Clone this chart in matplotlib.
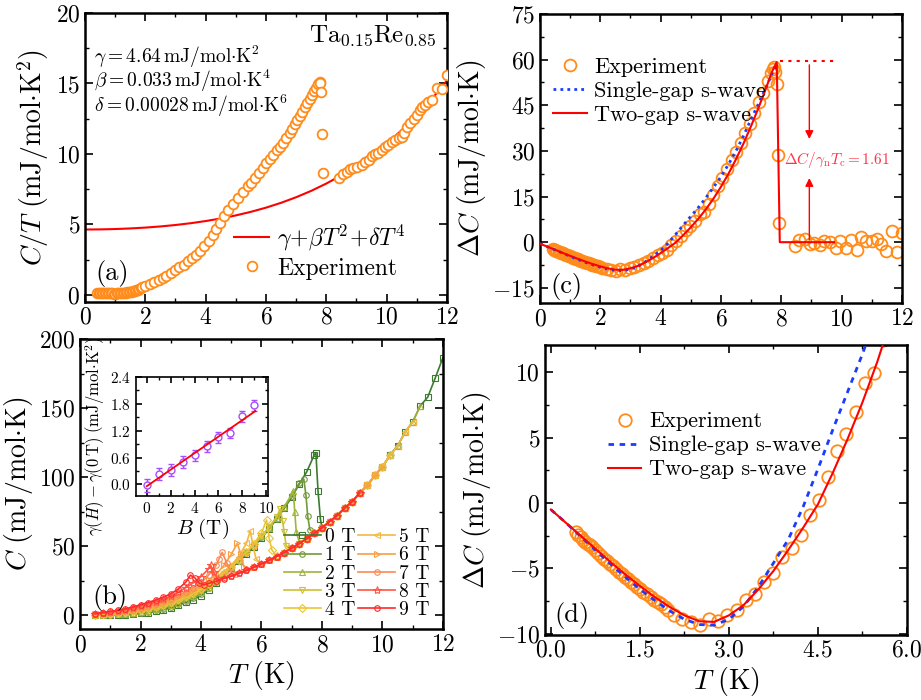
import matplotlib.pyplot as plt
from matplotlib.ticker import MultipleLocator

plt.rcParams['font.family'] = 'serif'
plt.rcParams['font.serif'] = ['cmr10']
plt.rcParams['mathtext.fontset'] = 'cm'
plt.rcParams['axes.formatter.use_mathtext'] = True

ORANGE = '#ff8c1a'
RED = '#ff0000'
BLUE = '#1a3cff'

# ---------------- panel (a): C/T vs T ----------------
a_T = [0.40, 0.45, 0.50, 0.55, 0.60, 0.65, 0.70, 0.75, 0.80, 0.85, 0.90, 0.95, 1.00, 1.05, 1.10,
       1.15, 1.20, 1.25, 1.30, 1.35, 1.40, 1.45, 1.50, 1.55, 1.60, 1.65, 1.70, 1.75, 1.80, 1.85, 1.90,
       2.00, 2.15, 2.30, 2.45, 2.57, 2.70, 2.85, 3.00, 3.13, 3.27, 3.40, 3.55, 3.68, 3.82, 3.96, 4.10,
       4.23, 4.35, 4.46, 4.60, 4.73, 4.90, 5.07, 5.23, 5.40, 5.51, 5.62, 5.76, 5.90, 6.01, 6.12, 6.23,
       6.35, 6.45, 6.56, 6.67, 6.78, 6.86, 6.95, 7.03, 7.12, 7.20, 7.28, 7.37, 7.45, 7.52, 7.60, 7.67,
       7.73, 7.78, 7.80, 7.84, 7.86, 7.89,
       8.43, 8.55, 8.67, 8.78, 8.90, 9.03, 9.17, 9.28, 9.40, 9.50, 9.60, 9.72, 9.83, 9.94, 10.05,
       10.17, 10.28, 10.40, 10.50, 10.58, 10.66, 10.78, 10.90, 11.00, 11.10, 11.18, 11.27, 11.38,
       11.50, 11.66, 11.83, 12.00]
a_CT = [0.12, 0.14, 0.12, 0.13, 0.15, 0.13, 0.14, 0.15, 0.16, 0.13, 0.12, 0.10, 0.10, 0.11, 0.12,
        0.13, 0.14, 0.15, 0.16, 0.17, 0.18, 0.20, 0.22, 0.24, 0.27, 0.30, 0.34, 0.38, 0.43, 0.48, 0.55,
        0.64, 0.78, 0.90, 1.05, 1.20, 1.37, 1.55, 1.75, 1.95, 2.15, 2.38, 2.60, 2.85, 3.15, 3.45, 3.85,
        4.25, 4.70, 5.10, 5.60, 6.00, 6.45, 6.90, 7.30, 7.70, 7.95, 8.30, 8.65, 9.00, 9.35, 9.65, 9.95,
        10.25, 10.50, 10.80, 11.10, 11.45, 11.80, 12.10, 12.40, 12.70, 13.00, 13.35, 13.60, 13.90, 14.20,
        14.45, 14.70, 14.95, 15.10, 15.00, 14.40, 11.40, 8.65,
        8.30, 8.55, 8.70, 8.95, 9.00, 9.10, 9.25, 9.40, 9.60, 9.85, 10.00, 10.10, 10.25, 10.50, 10.60,
        10.85, 11.00, 11.10, 11.20, 11.50, 11.90, 12.20, 12.50, 12.75, 13.10, 13.30, 13.50, 13.65,
        13.80, 14.70, 14.60, 15.60]
fit_a_T = [0, 0.5, 1, 1.5, 2, 2.5, 3, 3.5, 4, 4.5, 5, 5.5, 6, 6.5, 7, 7.5, 8, 8.5, 9, 9.5, 10,
           10.5, 11, 11.5, 12]
fit_a_CT = [4.64, 4.648, 4.673, 4.716, 4.776, 4.857, 4.96, 5.086, 5.24, 5.423, 5.64, 5.894, 6.19,
            6.534, 6.93, 7.382, 7.90, 8.486, 9.15, 9.898, 10.74, 11.681, 12.73, 13.904, 15.2]

# ---------------- panel (b): C vs T in field ----------------
fields = ['0 T', '1 T', '2 T', '3 T', '4 T', '5 T', '6 T', '7 T', '8 T', '9 T']
field_colors = ['#3c7a30', '#72993a', '#a3b43c', '#cfc032', '#ebc534',
                '#f4b842', '#f8a044', '#f98a55', '#ff5543', '#ff2a2a']
field_markers = ['s', 'o', '^', 'v', 'D', '<', '>', 'o', '*', 'o']
sc_grid = [0.5, 0.75, 1.0, 1.25, 1.5, 1.75, 2.0, 2.25, 2.5, 2.75, 3.0, 3.25, 3.5, 3.75, 4.0,
           4.25, 4.5, 4.75, 5.0, 5.25, 5.5, 5.75, 6.0, 6.25, 6.5, 6.75, 7.0, 7.25, 7.5, 7.75]
low_C = [
    [0.06, 0.09, 0.12, 0.19, 0.33, 0.6, 1.3, 1.9, 2.8, 3.9, 5.4, 7.2, 9.3, 11.3, 14.2, 18.5, 23.4,
     29.0, 34.0, 38.9, 44.0, 49.7, 55.8, 62.5, 69.5, 77.3, 85.4, 95.0, 104.0, 116.3],
    [0.18, 0.27, 0.38, 0.55, 0.77, 1.15, 1.9, 2.6, 3.5, 4.7, 6.2, 8.1, 10.2, 12.5, 15.5, 19.5, 24.2,
     29.5, 34.6, 39.6, 44.8, 50.4, 56.4, 63.0, 70.0, 77.8, 86.4, 95.5],
    [0.3, 0.45, 0.65, 0.9, 1.2, 1.7, 2.5, 3.3, 4.3, 5.5, 7.1, 9.0, 11.2, 13.7, 16.8, 20.6, 25.0,
     30.0, 35.2, 40.3, 45.5, 51.0, 57.0, 63.5, 70.5, 78.5, 87.5],
    [0.4, 0.6, 0.9, 1.2, 1.6, 2.2, 3.2, 4.1, 5.2, 6.5, 8.2, 10.1, 12.3, 14.8, 17.8, 21.3, 25.4,
     30.0, 35.0, 40.2, 45.6, 51.2, 57.2, 63.8, 71.0],
    [0.5, 0.75, 1.1, 1.5, 2.0, 2.7, 3.8, 4.9, 6.1, 7.6, 9.4, 11.4, 13.6, 16.2, 19.2, 22.6, 26.4,
     30.6, 35.2, 40.2, 45.6, 51.8, 59.5],
    [0.6, 0.95, 1.35, 1.8, 2.4, 3.2, 4.3, 5.4, 6.8, 8.5, 10.4, 12.5, 14.8, 17.4, 20.3, 23.6, 27.3,
     31.5, 36.2, 42.5, 52.0],
    [0.7, 1.15, 1.6, 2.1, 2.7, 3.5, 4.6, 5.8, 7.3, 9.0, 11.0, 13.2, 15.7, 18.5, 21.7, 25.3, 29.5,
     36.0, 44.0],
    [0.85, 1.35, 1.9, 2.45, 3.1, 4.0, 5.3, 6.6, 8.2, 10.0, 12.0, 14.3, 17.0, 20.0, 23.5, 29.0, 36.0],
    [1.0, 1.6, 2.3, 3.1, 4.0, 5.2, 6.7, 8.1, 9.8, 11.6, 13.8, 16.5, 20.0, 23.5, 28.0, 33.5],
    [1.2, 1.9, 2.7, 3.6, 4.6, 6.0, 7.6, 9.2, 11.0, 13.0, 15.5, 19.0, 24.0],
]
jump_T = [
    [7.8, 7.87, 7.95],
    [7.4, 7.47, 7.53, 7.6, 7.75],
    [7.05, 7.1, 7.15, 7.25],
    [6.62, 6.7, 6.75, 6.82],
    [6.17, 6.25, 6.35, 6.5],
    [5.63, 5.72, 5.82],
    [5.2, 5.32, 5.42, 5.6],
    [4.6, 4.7, 4.85, 5.0, 5.15],
    [4.32, 4.42, 4.55, 4.75],
    [3.65, 3.8, 3.95, 4.1, 4.25, 4.5, 4.75],
]
jump_C = [
    [117.5, 90.0, 69.6],
    [98.5, 87.0, 71.5, 62.0, 59.5],
    [90.0, 75.0, 60.5, 53.0],
    [77.0, 68.0, 60.0, 50.0],
    [69.0, 56.0, 47.0, 43.0],
    [61.0, 50.0, 41.0],
    [52.0, 44.0, 35.0, 33.8],
    [41.0, 45.5, 38.0, 31.0, 29.8],
    [36.0, 31.0, 26.5, 26.8],
    [29.0, 27.0, 23.0, 22.0, 23.0, 24.6, 26.5],
]
tail_range = [(8.0, 12.0), (8.0, 10.5), (7.5, 11.25), (7.0, 10.0), (6.75, 10.25),
              (6.0, 11.0), (5.75, 10.0), (5.5, 9.25), (5.0, 9.25), (5.0, 9.25)]
norm_T = [4.0, 4.25, 4.5, 4.75, 5.0, 5.25, 5.5, 5.75, 6.0, 6.25, 6.5, 6.75, 7.0, 7.25, 7.5, 7.75,
          8.0, 8.25, 8.5, 8.75, 9.0, 9.25, 9.5, 9.75, 10.0, 10.25, 10.5, 10.75, 11.0, 11.25, 11.5,
          11.75, 12.0]
norm_C = [21.0, 22.6, 24.4, 26.3, 28.2, 30.3, 32.4, 34.7, 37.1, 39.7, 42.5, 45.4, 48.5, 51.9, 55.4,
          59.3, 63.2, 67.8, 72.1, 77.5, 82.3, 88.6, 94.0, 101.3, 107.4, 115.9, 122.6, 132.5, 140.0,
          151.5, 158.0, 172.0, 186.5]

# inset
inset_B = [0, 1, 2, 3, 4, 5, 6, 7, 8, 9]
inset_dg = [-0.02, 0.23, 0.32, 0.50, 0.65, 0.85, 1.05, 1.15, 1.52, 1.77]
inset_err = [0.15, 0.13, 0.13, 0.13, 0.12, 0.12, 0.13, 0.12, 0.12, 0.12]
inset_fit_B = [0.0, 9.1]
inset_fit = [-0.04, 1.64]

# ---------------- panels (c), (d): Delta C vs T ----------------
dC_T = [0.42, 0.46, 0.50, 0.54, 0.58, 0.62, 0.66, 0.70, 0.75, 0.80, 0.85, 0.90, 0.95, 1.00, 1.05,
        1.10, 1.15, 1.20, 1.25, 1.30, 1.35, 1.40, 1.45, 1.50, 1.56, 1.62, 1.68, 1.74, 1.80, 1.86,
        1.92, 1.98, 2.07, 2.21, 2.36, 2.51, 2.66, 2.82, 2.97, 3.13, 3.28, 3.44, 3.59, 3.74, 3.90,
        4.06, 4.21, 4.36, 4.52, 4.67, 4.83, 4.98, 5.14, 5.29, 5.45, 5.60, 5.75, 5.90, 6.05, 6.20,
        6.35, 6.50, 6.65, 6.80, 6.95, 7.10, 7.25, 7.40, 7.55, 7.65, 7.72, 7.76, 7.80, 7.85, 7.88,
        7.92, 8.44, 8.60, 8.77, 8.94, 9.10, 9.27, 9.43, 9.60, 9.80, 9.96, 10.15, 10.32, 10.50,
        10.65, 10.82, 11.02, 11.17, 11.32, 11.48, 11.67, 11.85, 12.00]
dC_val = [-2.25, -2.45, -2.6, -2.8, -2.95, -3.1, -3.25, -3.4, -3.6, -3.85, -4.05, -4.25, -4.45,
          -4.65, -4.85, -5.05, -5.25, -5.45, -5.65, -5.85, -6.05, -6.2, -6.4, -6.6, -6.8, -7.0,
          -7.2, -7.4, -7.55, -7.75, -7.95, -8.2, -8.6, -8.9, -9.1, -9.35, -8.9, -9.0, -8.55, -8.2,
          -7.4, -6.95, -6.05, -5.35, -4.1, -3.45, -2.45, -0.95, 0.25, 2.0, 4.0, 5.25, 7.0, 9.2,
          9.95, 12.5, 15.5, 18.5, 21.0, 24.0, 27.0, 29.5, 32.5, 36.0, 39.0, 42.5, 46.0, 49.0, 53.0,
          55.5, 57.0, 57.5, 56.0, 52.0, 28.6, 6.3, -1.4, 0.8, 1.1, -0.5, -0.3, -0.8, 0.3, 0.0, -1.9,
          0.3, -1.9, 0.8, -2.5, 1.6, 0.3, 0.3, 1.1, -0.5, -3.0, 3.8, -3.3, 3.0]
two_gap_T = [0.0, 0.25, 0.5, 0.75, 1.0, 1.25, 1.5, 1.75, 2.0, 2.25, 2.5, 2.75, 3.0, 3.25, 3.5,
             3.75, 4.0, 4.25, 4.5, 4.75, 5.0, 5.25, 5.5, 5.75, 6.0, 6.25, 6.5, 6.75, 7.0, 7.25,
             7.5, 7.7, 7.85, 7.95, 9.75]
two_gap = [-0.5, -1.5, -2.5, -3.5, -4.5, -5.45, -6.35, -7.2, -7.95, -8.6, -9.05, -9.1, -8.6, -7.8,
           -6.6, -5.2, -3.6, -1.9, -0.1, 2.3, 4.9, 7.7, 10.8, 14.3, 18.2, 22.5, 27.3, 32.5, 38.2,
           44.3, 50.8, 56.2, 59.2, 0.0, 0.0]
one_gap_T = [0.0, 0.25, 0.5, 0.75, 1.0, 1.25, 1.5, 1.75, 2.0, 2.25, 2.5, 2.75, 3.0, 3.25, 3.5,
             3.75, 4.0, 4.25, 4.5, 4.75, 5.0, 5.25, 5.5, 5.75, 6.0, 6.25, 6.5, 6.75, 7.0, 7.25,
             7.5, 7.7, 7.85]
one_gap = [-0.5, -1.5, -2.55, -3.6, -4.65, -5.65, -6.6, -7.45, -8.25, -8.9, -9.3, -9.35, -8.9,
           -7.9, -6.4, -4.6, -2.8, -0.3, 2.6, 5.6, 8.5, 11.4, 14.6, 18.0, 21.5, 25.6, 30.0, 35.0,
           40.5, 45.6, 51.0, 55.5, 58.0]
jump_level_T = [7.95, 9.75]
jump_level = [59.4, 59.4]


def style_axes(ax, xmaj, xmin, ymaj, ymin, size=17, lw=1.8):
    ax.xaxis.set_major_locator(MultipleLocator(xmaj))
    ax.xaxis.set_minor_locator(MultipleLocator(xmin))
    ax.yaxis.set_major_locator(MultipleLocator(ymaj))
    ax.yaxis.set_minor_locator(MultipleLocator(ymin))
    ax.tick_params(which='both', direction='in', top=True, right=True, labelsize=size)
    ax.tick_params(which='major', length=6, width=1.2)
    ax.tick_params(which='minor', length=3, width=1.0)
    for s in ax.spines.values():
        s.set_linewidth(lw)


fig = plt.figure(figsize=(9.21, 7.0), dpi=100)
ax_a = fig.add_axes([0.0923, 0.5686, 0.393, 0.4129])
ax_c = fig.add_axes([0.5863, 0.5671, 0.393, 0.4129])
ax_b = fig.add_axes([0.0869, 0.1014, 0.394, 0.4143])
ax_d = fig.add_axes([0.5917, 0.0929, 0.393, 0.4143])
ax_in = fig.add_axes([0.1477, 0.2914, 0.1433, 0.170])

ylab = 20
leg_kw = dict(frameon=False, fontsize=16, handlelength=1.5, handletextpad=0.35,
              labelspacing=0.2, borderaxespad=0)

# (a)
ax_a.plot(fit_a_T, fit_a_CT, color=RED, lw=1.5, label=r'$\gamma\!+\!\beta T^2\!+\!\delta T^4$', zorder=2)
ax_a.plot(a_T, a_CT, 'o', ms=7, mfc='white', mec=ORANGE, mew=1.3, label='Experiment', zorder=3)
ax_a.set_xlim(0, 12)
ax_a.set_ylim(-0.5, 20)
style_axes(ax_a, 2, 1, 5, 2.5)
ax_a.set_ylabel(r'$C/T\ (\mathrm{mJ/mol{\cdot}K^2})$', fontsize=ylab, labelpad=3)
ax_a.legend(loc='lower left', bbox_to_anchor=(0.385, 0.045), **dict(leg_kw, fontsize=17))
ax_a.text(0.03, 0.075, '(a)', transform=ax_a.transAxes, fontsize=19)
ax_a.text(0.97, 0.965, r'$\mathrm{Ta_{0.15}Re_{0.85}}$', transform=ax_a.transAxes, fontsize=18,
          ha='right', va='top')
ax_a.text(0.025, 0.895, r'$\gamma = 4.64\,\mathrm{mJ/mol{\cdot}K^2}$', transform=ax_a.transAxes,
          fontsize=14, va='top')
ax_a.text(0.025, 0.81, r'$\beta = 0.033\,\mathrm{mJ/mol{\cdot}K^4}$', transform=ax_a.transAxes,
          fontsize=14, va='top')
ax_a.text(0.025, 0.725, r'$\delta = 0.00028\,\mathrm{mJ/mol{\cdot}K^6}$', transform=ax_a.transAxes,
          fontsize=14, va='top')

# (b)
for k in range(len(fields)):
    lo, hi = tail_range[k]
    tT = [t for t in norm_T if lo <= t <= hi]
    tC = [c for t, c in zip(norm_T, norm_C) if lo <= t <= hi]
    T = sc_grid[:len(low_C[k])] + jump_T[k] + tT
    C = low_C[k] + jump_C[k] + tC
    ms = 6 if field_markers[k] == '*' else 4
    ax_b.plot(T, C, marker=field_markers[k], ms=ms, mfc='none', mec=field_colors[k], mew=0.8,
              color=field_colors[k], lw=1.2, label=fields[k])
ax_b.set_xlim(0, 12)
ax_b.set_ylim(-10, 200)
style_axes(ax_b, 2, 1, 50, 25)
ax_b.set_xlabel(r'$T\ (\mathrm{K})$', fontsize=ylab, labelpad=2)
ax_b.set_ylabel(r'$C\ (\mathrm{mJ/mol{\cdot}K})$', fontsize=ylab, labelpad=3)
ax_b.legend(loc='lower right', bbox_to_anchor=(0.99, 0.0), ncol=2, frameon=False, fontsize=14,
            handlelength=1.9, handletextpad=0.2, labelspacing=0.02, columnspacing=0.15,
            borderaxespad=0.1)
ax_b.text(0.035, 0.085, '(b)', transform=ax_b.transAxes, fontsize=19)

# inset
ax_in.errorbar(inset_B, inset_dg, yerr=inset_err, fmt='o', ms=5, mfc='white', mec='#a64dff',
               ecolor='#a64dff', elinewidth=1.0, capsize=2, mew=1.0, zorder=2)
ax_in.plot(inset_fit_B, inset_fit, color=RED, lw=1.3, zorder=3)
ax_in.set_xlim(-0.9, 10.15)
ax_in.set_ylim(-0.26, 2.4)
style_axes(ax_in, 2, 1, 0.6, 0.3, size=11, lw=1.2)
ax_in.tick_params(which='major', length=4)
ax_in.tick_params(which='minor', length=2)
ax_in.set_xlabel(r'$B\ (\mathrm{T})$', fontsize=15, labelpad=1)
ax_in.set_ylabel(r'$\gamma(H)-\gamma(0\,\mathrm{T})\ (\mathrm{mJ/mol{\cdot}K^2})$', fontsize=12,
                 labelpad=2)

# (c)
ax_c.plot(dC_T, dC_val, 'o', ms=8.5, mfc='none', mec=ORANGE, mew=1.3, label='Experiment', zorder=2)
ax_c.plot(one_gap_T, one_gap, color=BLUE, lw=2, ls=(0, (1, 1.5)), label='Single-gap s-wave',
          zorder=3)
ax_c.plot(two_gap_T, two_gap, color=RED, lw=1.5, label='Two-gap s-wave', zorder=4)
ax_c.plot(jump_level_T, jump_level, color=RED, lw=1.5, ls=(0, (1.5, 2.5)), zorder=4)
ax_c.annotate('', xy=(8.93, 33), xytext=(8.93, 59.2),
              arrowprops=dict(arrowstyle='-|>', color=RED, lw=1.0, mutation_scale=12))
ax_c.annotate('', xy=(8.93, 22), xytext=(8.93, 0),
              arrowprops=dict(arrowstyle='-|>', color=RED, lw=1.0, mutation_scale=12))
ax_c.text(8.1, 27, r'$\Delta C/\gamma_{\rm n}T_{\rm c}=1.61$', color='#ff3347', fontsize=11,
          va='center')
ax_c.set_xlim(0, 12)
ax_c.set_ylim(-20, 75)
style_axes(ax_c, 2, 1, 15, 7.5)
ax_c.set_ylabel(r'$\Delta C\ (\mathrm{mJ/mol{\cdot}K})$', fontsize=ylab, labelpad=3)
ax_c.legend(loc='upper left', bbox_to_anchor=(0.012, 0.88), **leg_kw)
ax_c.text(0.03, 0.035, '(c)', transform=ax_c.transAxes, fontsize=19)

# (d)
ax_d.plot(dC_T, dC_val, 'o', ms=9, mfc='none', mec=ORANGE, mew=1.3, label='Experiment', zorder=2)
ax_d.plot(one_gap_T, one_gap, color=BLUE, lw=2, ls=(0, (2, 2)), label='Single-gap s-wave',
          zorder=3)
ax_d.plot(two_gap_T, two_gap, color=RED, lw=1.5, label='Two-gap s-wave', zorder=4)
ax_d.set_xlim(-0.1, 6.0)
ax_d.set_ylim(-10.1, 12.1)
style_axes(ax_d, 1.5, 0.75, 5, 2.5)
ax_d.set_xlabel(r'$T\ (\mathrm{K})$', fontsize=ylab, labelpad=2)
ax_d.set_ylabel(r'$\Delta C\ (\mathrm{mJ/mol{\cdot}K})$', fontsize=ylab, labelpad=3)
ax_d.legend(loc='upper left', bbox_to_anchor=(0.15, 0.80), **leg_kw)
ax_d.text(0.025, 0.045, '(d)', transform=ax_d.transAxes, fontsize=19)

fig.savefig('out.png', dpi=100)
